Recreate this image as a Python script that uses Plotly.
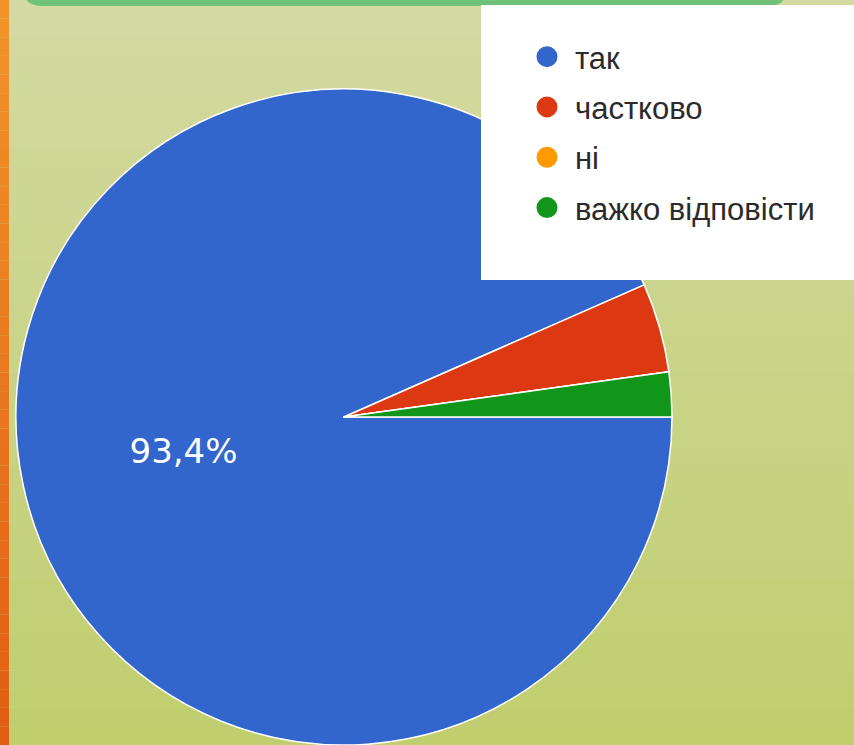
import plotly.graph_objects as go

# ---- data ----
categories = ["так", "частково", "ні", "важко відповісти"]
values = [93.4, 4.4, 0.0, 2.2]
colors = ["#3366cc", "#dc3912", "#ff9900", "#109618"]
label_templates = ["%{percent:.1%}", "", "", ""]

W, H = 854, 745

def px(x):
    return x / W

def py(y):
    return 1 - y / H

fig = go.Figure()

fig.add_trace(go.Pie(
    labels=categories,
    values=values,
    sort=False,
    direction="clockwise",
    rotation=90,
    marker=dict(colors=colors, line=dict(color="white", width=1.5)),
    texttemplate=label_templates,
    textposition="inside",
    insidetextorientation="horizontal",
    textfont=dict(family="DejaVu Sans", size=34, color="white"),
    showlegend=False,
    hoverinfo="label+percent",
    domain=dict(x=[px(16), px(672)], y=[py(745), py(89)]),
))

# legend entries (circle markers)
for name, col in zip(categories, colors):
    fig.add_trace(go.Scatter(
        x=[None], y=[None], mode="markers", name=name,
        legendgroup=name,
        marker=dict(symbol="circle", size=16, color=col,
                    line=dict(color=col, width=5)),
    ))

shapes = []
# background gradient
top = (211, 217, 161)
bot = (192, 206, 110)
n = 40
for i in range(n):
    t = i / (n - 1)
    c = tuple(round(top[k] + (bot[k] - top[k]) * t) for k in range(3))
    shapes.append(dict(type="rect", xref="paper", yref="paper",
                       x0=0, x1=1, y0=1 - (i + 1) / n, y1=1 - i / n,
                       fillcolor="rgb(%d,%d,%d)" % c, line=dict(width=0),
                       layer="below"))
# orange left bar
otop = (240, 148, 42)
obot = (224, 94, 20)
for i in range(n):
    t = i / (n - 1)
    c = tuple(round(otop[k] + (obot[k] - otop[k]) * t) for k in range(3))
    shapes.append(dict(type="rect", xref="paper", yref="paper",
                       x0=0, x1=px(9), y0=1 - (i + 1) / n, y1=1 - i / n,
                       fillcolor="rgb(%d,%d,%d)" % c, line=dict(width=0),
                       layer="below"))
# top green rounded bar
r = 14
x0, x1, yb = 24, 786, 6
path = (f"M {px(x0)},{py(-2)} L {px(x0)},{py(yb - r)} "
        f"Q {px(x0)},{py(yb)} {px(x0 + r * 1.4)},{py(yb)} "
        f"L {px(x1 - r * 1.4)},{py(yb)} Q {px(x1)},{py(yb)} {px(x1)},{py(yb - r)} "
        f"L {px(x1)},{py(-2)} Z")
shapes.append(dict(type="path", xref="paper", yref="paper", path=path,
                   fillcolor="#6fc277", line=dict(width=0), layer="below"))
# white legend box
shapes.append(dict(type="rect", xref="paper", yref="paper",
                   x0=px(481), x1=1.0, y0=py(280), y1=py(5),
                   fillcolor="white", line=dict(width=0), layer="above"))

fig.update_layout(
    width=W, height=H,
    margin=dict(l=0, r=0, t=0, b=0),
    paper_bgcolor="#cad491",
    plot_bgcolor="rgba(0,0,0,0)",
    separators=", ",
    shapes=shapes,
    xaxis=dict(visible=False),
    yaxis=dict(visible=False),
    showlegend=True,
    legend=dict(
        x=px(519), y=py(30), xanchor="left", yanchor="top",
        bgcolor="rgba(0,0,0,0)",
        font=dict(family="Liberation Sans, Arial", size=31, color="#2b2b2b"),
        itemwidth=46,
        tracegroupgap=7,
        itemclick=False, itemdoubleclick=False,
    ),
)

fig.write_html(
    "out.html",
    config={"displayModeBar": False},
    post_script="document.body.style.margin='0';document.body.style.overflow='hidden';",
)
